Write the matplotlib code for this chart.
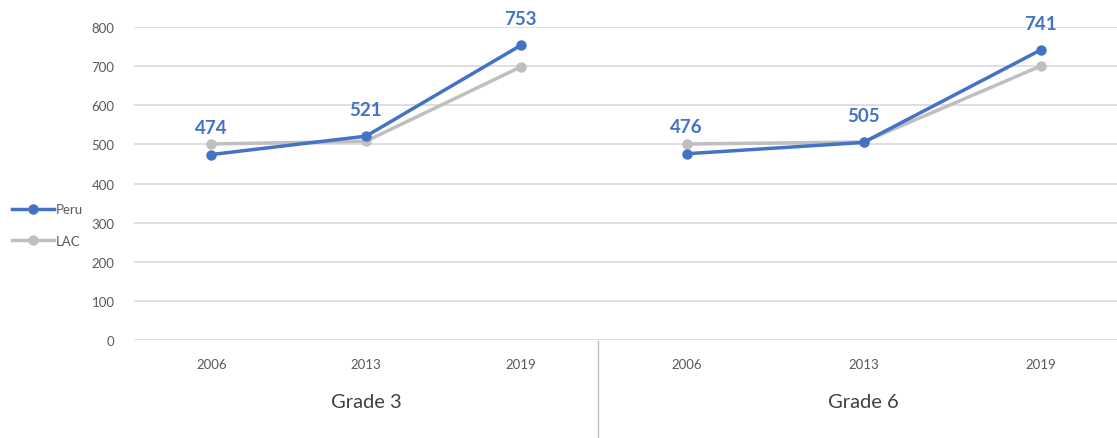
import matplotlib.pyplot as plt
from matplotlib.lines import Line2D

plt.rcParams['font.family'] = ['Lato', 'DejaVu Sans']

years = ['2006', '2013', '2019']
groups = ['Grade 3', 'Grade 6']
peru = [[474, 521, 753], [476, 505, 741]]
lac = [[501, 508, 698], [501, 506, 700]]
yticks = [0, 100, 200, 300, 400, 500, 600, 700, 800]

blue = '#4472C4'
gray = '#BFBFBF'
grid = '#D9D9D9'
txt = '#595959'

W, H = 1117, 439
fig = plt.figure(figsize=(W / 100, H / 100), dpi=100)

# two panels, the right one runs past the right edge like the source
boxes = [(134, 464), (598, 531)]
for i, (x0, w) in enumerate(boxes):
    ax = fig.add_axes([x0 / W, 98 / H, w / W, 313 / H])
    x = range(len(years))
    ax.plot(x, lac[i], color=gray, lw=2.5, marker='o', ms=6.5, zorder=3)
    ax.plot(x, peru[i], color=blue, lw=2.5, marker='o', ms=6.5, zorder=4)
    for xi, v in zip(x, peru[i]):
        ax.annotate(str(v), (xi, v), xytext=(0, 19.5),
                    textcoords='offset points', ha='center', va='center',
                    color=blue, fontsize=13.5, fontweight='bold',
                    annotation_clip=False)
    ax.set_xlim(-0.5, 2.5)
    ax.set_ylim(0, 800)
    ax.set_yticks(yticks)
    ax.set_xticks(list(x))
    ax.set_xticklabels(years)
    ax.grid(axis='y', color=grid, lw=1.2)
    ax.set_axisbelow(True)
    for s in ax.spines.values():
        s.set_visible(False)
    ax.tick_params(length=0, colors=txt, labelsize=9.5, pad=13)
    if i == 0:
        ax.tick_params(axis='y', pad=14)
    else:
        ax.tick_params(axis='y', labelleft=False)
    ax.set_xlabel(groups[i], fontsize=14.5, color='#404040')
    # keep grade label centred on its own group
    ax.xaxis.set_label_coords(0.5, -0.17)

# divider between the groups below the axis
fig.add_artist(Line2D([598 / W, 598 / W], [0, 97 / H], color='#BFBFBF', lw=1))

handles = [Line2D([], [], color=blue, lw=2.5, marker='o', ms=6.5),
           Line2D([], [], color=gray, lw=2.5, marker='o', ms=6.5)]
fig.legend(handles, ['Peru', 'LAC'], loc='center left',
           bbox_to_anchor=(0.0, 0.485), frameon=False, fontsize=9.5,
           handlelength=3.2, handletextpad=0.1, labelspacing=1.5,
           labelcolor=txt)

fig.savefig('out.png', dpi=100)
